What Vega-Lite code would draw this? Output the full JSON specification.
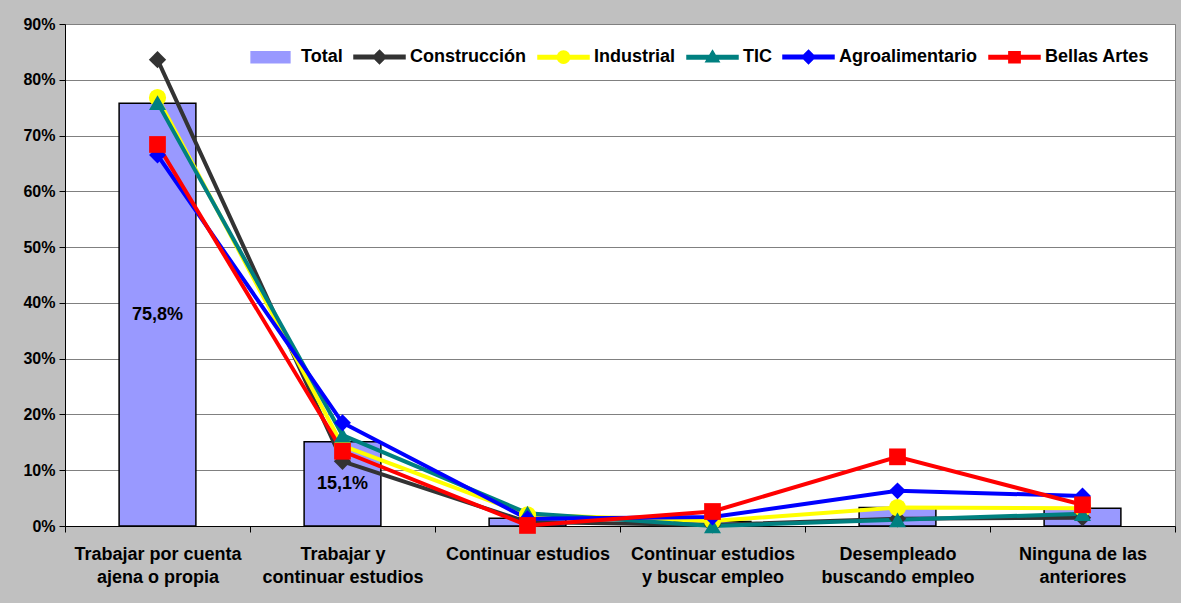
{
  "$schema": "https://vega.github.io/schema/vega-lite/v6.json",
  "width": 1110,
  "height": 502,
  "autosize": {"type": "none"},
  "padding": {"left": 65, "top": 24, "right": 6, "bottom": 77},
  "background": "#C0C0C0",
  "config": {
    "view": {"fill": "white", "stroke": "#808080", "strokeWidth": 1},
    "font": "Liberation Sans"
  },
  "data": {
    "values": [
      {"cat": "Trabajar por cuenta ajena o propia", "series": "Total", "value": 75.8, "label": "75,8%"},
      {"cat": "Trabajar y continuar estudios", "series": "Total", "value": 15.1, "label": "15,1%"},
      {"cat": "Continuar estudios", "series": "Total", "value": 1.4, "label": ""},
      {"cat": "Continuar estudios y buscar empleo", "series": "Total", "value": 0.8, "label": ""},
      {"cat": "Desempleado buscando empleo", "series": "Total", "value": 3.3, "label": ""},
      {"cat": "Ninguna de las anteriores", "series": "Total", "value": 3.2, "label": ""},
      {"cat": "Trabajar por cuenta ajena o propia", "series": "Construcción", "value": 83.6},
      {"cat": "Trabajar y continuar estudios", "series": "Construcción", "value": 11.6},
      {"cat": "Continuar estudios", "series": "Construcción", "value": 0.7},
      {"cat": "Continuar estudios y buscar empleo", "series": "Construcción", "value": 0.2},
      {"cat": "Desempleado buscando empleo", "series": "Construcción", "value": 1.3},
      {"cat": "Ninguna de las anteriores", "series": "Construcción", "value": 1.5},
      {"cat": "Trabajar por cuenta ajena o propia", "series": "Industrial", "value": 76.8},
      {"cat": "Trabajar y continuar estudios", "series": "Industrial", "value": 14.4},
      {"cat": "Continuar estudios", "series": "Industrial", "value": 2.0},
      {"cat": "Continuar estudios y buscar empleo", "series": "Industrial", "value": 0.9},
      {"cat": "Desempleado buscando empleo", "series": "Industrial", "value": 3.3},
      {"cat": "Ninguna de las anteriores", "series": "Industrial", "value": 3.2},
      {"cat": "Trabajar por cuenta ajena o propia", "series": "TIC", "value": 75.9},
      {"cat": "Trabajar y continuar estudios", "series": "TIC", "value": 16.3},
      {"cat": "Continuar estudios", "series": "TIC", "value": 2.3},
      {"cat": "Continuar estudios y buscar empleo", "series": "TIC", "value": 0.0},
      {"cat": "Desempleado buscando empleo", "series": "TIC", "value": 1.1},
      {"cat": "Ninguna de las anteriores", "series": "TIC", "value": 2.2},
      {"cat": "Trabajar por cuenta ajena o propia", "series": "Agroalimentario", "value": 66.5},
      {"cat": "Trabajar y continuar estudios", "series": "Agroalimentario", "value": 18.5},
      {"cat": "Continuar estudios", "series": "Agroalimentario", "value": 1.3},
      {"cat": "Continuar estudios y buscar empleo", "series": "Agroalimentario", "value": 1.6},
      {"cat": "Desempleado buscando empleo", "series": "Agroalimentario", "value": 6.3},
      {"cat": "Ninguna de las anteriores", "series": "Agroalimentario", "value": 5.4},
      {"cat": "Trabajar por cuenta ajena o propia", "series": "Bellas Artes", "value": 68.4},
      {"cat": "Trabajar y continuar estudios", "series": "Bellas Artes", "value": 13.4},
      {"cat": "Continuar estudios", "series": "Bellas Artes", "value": 0.1},
      {"cat": "Continuar estudios y buscar empleo", "series": "Bellas Artes", "value": 2.6},
      {"cat": "Desempleado buscando empleo", "series": "Bellas Artes", "value": 12.4},
      {"cat": "Ninguna de las anteriores", "series": "Bellas Artes", "value": 3.8}
    ]
  },
  "encoding": {
    "x": {
      "field": "cat",
      "type": "nominal",
      "scale": {
        "domain": ["Trabajar por cuenta ajena o propia", "Trabajar y continuar estudios", "Continuar estudios", "Continuar estudios y buscar empleo", "Desempleado buscando empleo", "Ninguna de las anteriores"],
        "paddingInner": 0,
        "paddingOuter": 0
      },
      "axis": {
        "title": null,
        "labelAngle": 0,
        "labelFont": "Liberation Sans",
        "labelFontWeight": "bold",
        "labelFontSize": 18,
        "labelColor": "black",
        "labelLineHeight": 23,
        "labelPadding": 13,
        "labelLimit": 400,
        "tickSize": 6,
        "tickColor": "black",
        "tickBand": "extent",
        "domainColor": "black",
        "domainWidth": 1,
        "grid": false,
        "labelExpr": "datum.value == 'Trabajar por cuenta ajena o propia' ? ['Trabajar por cuenta', 'ajena o propia'] : datum.value == 'Trabajar y continuar estudios' ? ['Trabajar y', 'continuar estudios'] : datum.value == 'Continuar estudios y buscar empleo' ? ['Continuar estudios', 'y buscar empleo'] : datum.value == 'Desempleado buscando empleo' ? ['Desempleado', 'buscando empleo'] : datum.value == 'Ninguna de las anteriores' ? ['Ninguna de las', 'anteriores'] : datum.value"
      }
    },
    "y": {
      "field": "value",
      "type": "quantitative",
      "scale": {"domain": [0, 90], "nice": false},
      "axis": {
        "title": null,
        "values": [0, 10, 20, 30, 40, 50, 60, 70, 80, 90],
        "labelExpr": "datum.value + '%'",
        "labelFont": "Liberation Sans",
        "labelFontWeight": "bold",
        "labelFontSize": 16,
        "labelColor": "black",
        "labelPadding": 4,
        "labelOverlap": false,
        "tickSize": 6,
        "tickColor": "black",
        "domainColor": "black",
        "grid": true,
        "gridColor": "#808080",
        "gridWidth": 1
      }
    }
  },
  "layer": [
    {
      "transform": [{"filter": "datum.series === 'Total'"}],
      "mark": {"type": "bar", "width": {"band": 0.415}, "stroke": "black", "strokeWidth": 1.5},
      "encoding": {
        "color": {
          "field": "series",
          "type": "nominal",
          "scale": {
            "domain": ["Total", "Construcción", "Industrial", "TIC", "Agroalimentario", "Bellas Artes"],
            "range": ["#9999FF", "#333333", "#FFFF00", "#008080", "#0000FF", "#FF0000"]
          },
          "legend": {
            "title": null,
            "orient": "none",
            "legendX": 179,
            "legendY": 6,
            "direction": "horizontal",
            "columns": 6,
            "padding": 0,
            "labelFont": "Liberation Sans",
            "labelFontSize": 18,
            "labelFontWeight": "bold",
            "labelColor": "black",
            "labelOffset": 4,
            "labelLimit": 400,
            "columnPadding": 8,
            "symbolSize": 2601,
            "symbolStrokeWidth": 1.5,
            "encoding": {
              "symbols": {
                "shape": {"value": {"expr": "datum.value == 'Total' ? 'M-0.76,-0.22H0.76V0.22H-0.76Z' : datum.value == 'Industrial' ? 'M-1,-0.07H1V0.07H-1Z M-0.24,0A0.24,0.24 0 1 1 0.24,0A0.24,0.24 0 1 1 -0.24,0Z' : datum.value == 'TIC' ? 'M-1,-0.07H1V0.07H-1Z M0,-0.26L0.26,0.18H-0.26Z' : datum.value == 'Bellas Artes' ? 'M-1,-0.07H1V0.07H-1Z M-0.22,-0.22H0.22V0.22H-0.22Z' : 'M-1,-0.07H1V0.07H-1Z M0,-0.26L0.26,0L0,0.26L-0.26,0Z'"}},
                "fill": {"value": {"expr": "scale('color', datum.value)"}},
                "stroke": {"value": {"expr": "datum.value == 'Total' ? '#000000' : 'transparent'"}},
                "strokeWidth": {"value": 1.5},
                "strokeOpacity": {"value": 1},
                "opacity": {"value": 1},
                "fillOpacity": {"value": 1}
              }
            }
          }
        }
      }
    },
    {
      "transform": [
        {"filter": "datum.series === 'Total' && datum.label"},
        {"calculate": "datum.value / 2", "as": "mid"}
      ],
      "mark": {"type": "text", "font": "Liberation Sans", "fontWeight": "bold", "fontSize": 18, "color": "black", "align": "center", "baseline": "middle"},
      "encoding": {
        "y": {"field": "mid", "type": "quantitative"},
        "text": {"field": "label", "type": "nominal"}
      }
    },
    {
      "transform": [{"filter": "datum.series !== 'Total'"}],
      "mark": {"type": "line", "strokeWidth": 4},
      "encoding": {
        "color": {"field": "series", "type": "nominal"}
      }
    },
    {
      "transform": [{"filter": "datum.series !== 'Total'"}],
      "mark": {"type": "point", "filled": true, "opacity": 1},
      "encoding": {
        "color": {"field": "series", "type": "nominal"},
        "shape": {
          "field": "series",
          "type": "nominal",
          "scale": {
            "domain": ["Construcción", "Industrial", "TIC", "Agroalimentario", "Bellas Artes"],
            "range": ["diamond", "circle", "triangle-up", "diamond", "square"]
          },
          "legend": null
        },
        "size": {
          "field": "series",
          "type": "nominal",
          "scale": {
            "domain": ["Construcción", "Industrial", "TIC", "Agroalimentario", "Bellas Artes"],
            "range": [300, 280, 250, 300, 196]
          },
          "legend": null
        }
      }
    }
  ]
}
